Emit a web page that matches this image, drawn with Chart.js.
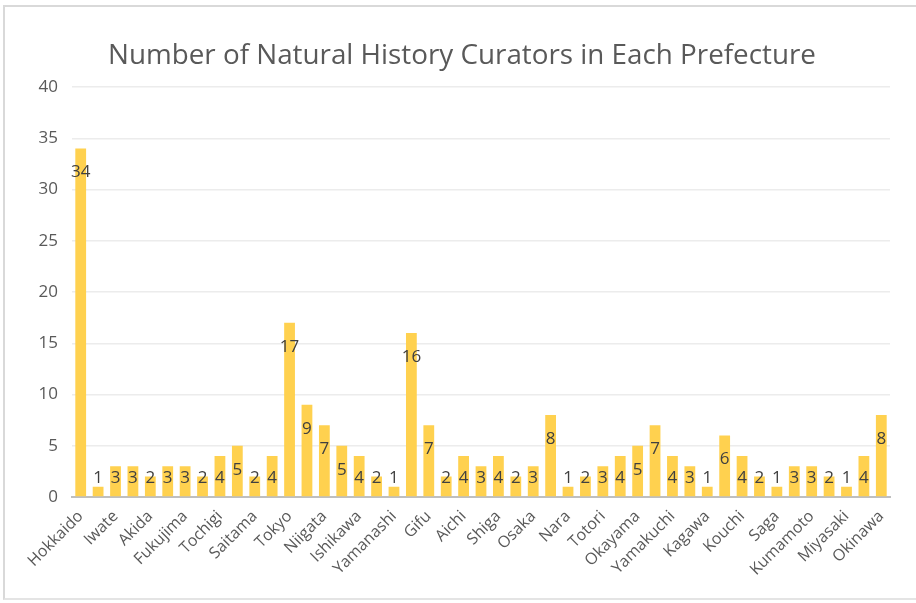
<!DOCTYPE html>
<html>
<head>
<meta charset="utf-8">
<script src="https://cdn.jsdelivr.net/npm/chart.js@4"></script>
<style>
  html, body { margin: 0; padding: 0; background: #fff; }
  #wrap { position: relative; width: 916px; height: 603px; }
  #frame {
    position: absolute; left: 3px; top: 5px; width: 913px; height: 595px;
    border-left: 2px solid #d9d9d9; border-top: 2px solid #d9d9d9; border-bottom: 2px solid #e4e4e4;
    box-sizing: border-box; pointer-events: none;
  }
  canvas { position: absolute; left: 0; top: 0; }
</style>
</head>
<body>
<div id="wrap">
  <canvas id="chart" width="916" height="603"></canvas>
  <div id="frame"></div>
</div>
<script>
// ── Datos ────────────────────────────────────────────────────────────────
const PREFECTURES = [
  "Hokkaido","Aomori","Iwate","Miyagi","Akida","Yamagata","Fukujima","Ibaraki","Tochigi","Gunma",
  "Saitama","Chiba","Tokyo","Kanagawa","Niigata","Toyama","Ishikawa","Fukui","Yamanashi","Nagano",
  "Gifu","Shizuoka","Aichi","Mie","Shiga","Kyoto","Osaka","Hyogo","Nara","Wakayama",
  "Totori","Shimane","Okayama","Hiroshima","Yamakuchi","Tokushima","Kagawa","Ehime","Kouchi","Fukuoka",
  "Saga","Nagasaki","Kumamoto","Oita","Miyasaki","Kagoshima","Okinawa"
]

const CURATORS = [
  34, 1, 3, 3, 2, 3, 3, 2, 4, 5,
   2, 4,17, 9, 7, 5, 4, 2, 1,16,
   7, 2, 4, 3, 4, 2, 3, 8, 1, 2,
   3, 4, 5, 7, 4, 3, 1, 6, 4, 2,
   1, 3, 3, 2, 1, 4, 8
]

const Y_TICKS = [0, 5, 10, 15, 20, 25, 30, 35, 40]

const TITLE = "Number of Natural History Curators in Each Prefecture"

const GREY = "#595959"
const FONT = "'Open Sans', sans-serif"

// ── Título centrado sobre la imagen completa (no sobre el área del gráfico)
const pageTitle = {
  id: "pageTitle",
  afterDraw(chart) {
    const ctx = chart.ctx
    ctx.save()
    ctx.font = "27.8px " + FONT
    ctx.fillStyle = GREY
    ctx.textAlign = "center"
    ctx.textBaseline = "middle"
    ctx.fillText(TITLE, 462, 56)
    ctx.restore()
  }
}

// ── Etiquetas de datos (inside end, sin plugin externo) ─────────────────
const valueLabels = {
  id: "valueLabels",
  afterDatasetsDraw(chart) {
    const ctx = chart.ctx
    const meta = chart.getDatasetMeta(0)
    const bottom = chart.chartArea.bottom
    ctx.save()
    ctx.font = "17px " + FONT
    ctx.fillStyle = "#404040"
    ctx.textAlign = "center"
    ctx.textBaseline = "middle"
    meta.data.forEach((bar, i) => {
      const y = Math.min(bar.y + 24, bottom - 19)
      ctx.fillText(String(CURATORS[i]), bar.x, y)
    })
    ctx.restore()
  }
}

new Chart(document.getElementById("chart"), {
  type: "bar",
  data: {
    labels: PREFECTURES,
    datasets: [{
      data: CURATORS,
      backgroundColor: "#FFD14F",
      borderWidth: 0,
      barPercentage: 0.62,
      categoryPercentage: 1
    }]
  },
  options: {
    responsive: false,
    animation: false,
    layout: { padding: { top: 87, right: 26, bottom: 0, left: 0 } },
    plugins: {
      legend: { display: false },
      tooltip: { enabled: false },
      title: { display: false }
    },
    scales: {
      x: {
        grid: { display: false, drawTicks: false },
        border: { color: "#bfbfbf", width: 2 },
        ticks: {
          autoSkip: false,
          maxRotation: 45,
          minRotation: 45,
          padding: 10,
          color: GREY,
          font: { family: FONT, size: 16 },
          callback: (v, i) => (i % 2 === 0 ? PREFECTURES[i] : "")
        },
        afterFit: s => { s.height = 106 }
      },
      y: {
        min: 0,
        max: 40,
        grid: { color: "#ececec", lineWidth: 1.5, drawTicks: false },
        border: { display: false },
        afterBuildTicks: s => { s.ticks = Y_TICKS.map(v => ({ value: v })) },
        ticks: {
          padding: 14,
          color: GREY,
          font: { family: FONT, size: 17 }
        },
        afterFit: s => { s.width = 72 }
      }
    }
  },
  plugins: [valueLabels, pageTitle]
})
</script>
</body>
</html>
